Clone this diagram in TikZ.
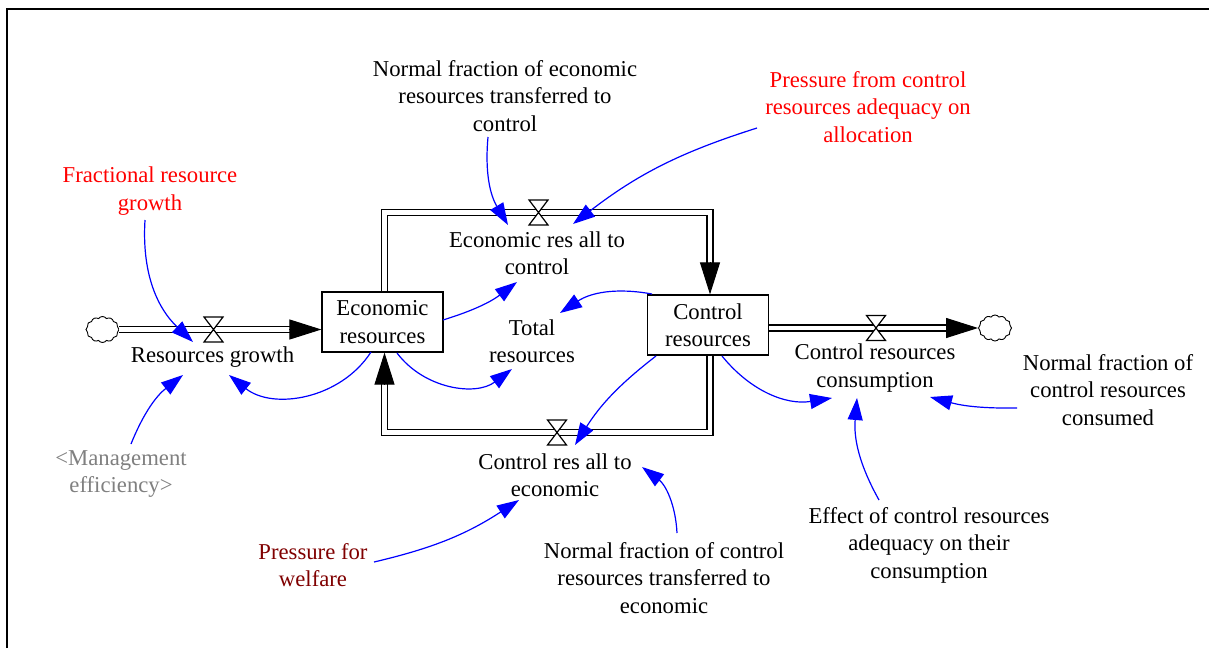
\documentclass[tikz,border=0pt]{standalone}
\usepackage{fontspec}
\setmainfont{Liberation Serif}
\usetikzlibrary{arrows.meta,shapes.symbols,calc}
\definecolor{darkred}{RGB}{128,0,0}
\definecolor{vgrey}{RGB}{128,128,128}
\begin{document}
\begin{tikzpicture}[x=1pt,y=-1pt,
  lbl/.style={align=center, font=\fontsize{22.7}{27.5}\selectfont, inner sep=1pt},
  stock/.style={lbl, draw, line width=1.2pt, minimum width=121pt, minimum height=60pt, fill=white},
  infl/.style={blue, line width=1.2pt, -{Triangle[length=22pt,width=15pt]}},
  pipe/.style={double=white, line width=1.7pt, double distance=4.3pt},
  flowtip/.style={-{Triangle[length=32pt,width=20pt]}, line width=1pt},
  cloudy/.style={cloud, cloud puffs=12, cloud puff arc=110, aspect=1.35, draw, line width=0.9pt, fill=white, minimum width=33pt, minimum height=26pt, inner sep=0pt},
  valve/.pic={\draw[fill=white, line width=1.2pt, line join=miter] (-9.5,-12.5) -- (9.5,-12.5) -- (-9.5,12.5) -- (9.5,12.5) -- cycle;}
]
\useasboundingbox (0,0) rectangle (1209,648);
\fill[white] (0,0) rectangle (1209,648);
\draw[line width=2pt] (7,648) -- (7,9) -- (1209,9);

% stocks and clouds
\node[stock] (ER) at (382.5,322) {Economic\\resources};
\node[stock] (CR) at (708,325) {Control\\resources};
\node[cloudy] (CL) at (102.5,329.5) {};
\node[cloudy] (CRt) at (995,328) {};
\coordinate (V0) at (213.5,329.5);
\coordinate (V1) at (538.5,212.5);
\coordinate (V2) at (557,432.5);
\coordinate (V3) at (876,328);

% pipes
\draw[pipe] (CL.east |- V0) -- ($(ER.west |- V0)+(-31,0)$);
\draw[flowtip] ($(ER.west |- V0)+(-32,0)$) -- (ER.west |- V0);
\draw[pipe] ($(ER.north)+(2,0)$) |- (V1) -| ($(CR.north)+(2,-31)$);
\draw[flowtip] ($(CR.north)+(2,-32)$) -- ($(CR.north)+(2,0)$);
\draw[pipe] ($(CR.south)+(2,0)$) |- (V2) -| ($(ER.south)+(2,31)$);
\draw[flowtip] ($(ER.south)+(2,32)$) -- ($(ER.south)+(2,0)$);
\draw[pipe] (CR.east |- V3) -- ($(CRt.west)+(-31,0)$);
\draw[flowtip] ($(CRt.west)+(-32,0)$) -- (CRt.west);
\pic at (V0) {valve};
\pic at (V1) {valve};
\pic at (V2) {valve};
\pic at (V3) {valve};

% labels
\node[lbl] (RGL) at (212.5,357) {Resources growth};
\node[lbl] (ERC) at (537,253) {Economic res all to\\control};
\node[lbl] (CRA) at (555,475) {Control res all to\\economic};
\node[lbl] (CRC) at (875,368) {Control resources\\consumption};
\node[lbl] (TR) at (532,341) {Total\\resources};
\node[lbl] (NFE) at (505,96) {Normal fraction of economic\\resources transferred to\\control};
\node[lbl, text=red] (PFC) at (868,107) {Pressure from control\\resources adequacy on\\allocation};
\node[lbl, text=red] (FRG) at (150,191) {Fractional resource\\growth};
\node[lbl, text=vgrey] (ME) at (121,474) {<Management\\efficiency>};
\node[lbl, text=darkred] (PW) at (313,565) {Pressure for\\welfare};
\node[lbl] (NFC) at (664,578) {Normal fraction of control\\resources transferred to\\economic};
\node[lbl] (EFF) at (929,545) {Effect of control resources\\adequacy on their\\consumption};
\node[lbl] (NFCC) at (1108,390) {Normal fraction of\\control resources\\consumed};

% influences
\draw[infl] ($(FRG)+(-5,29)$) to[bend right=25] ($(RGL)+(-19.5,-15)$);
\draw[infl] ($(ME)+(10,-30)$) to[bend left=15] ($(RGL)+(-29.5,18)$);
\draw[infl] ($(ER)+(-11.5,30)$) to[bend left=48] ($(RGL)+(16.5,18)$);
\draw[infl] ($(ER)+(60.5,-2)$) to[bend right=10] ($(ERC)+(-20,29)$);
\draw[infl] ($(ER)+(14.5,31)$) to[bend right=45] ($(TR)+(-20,28)$);
\draw[infl] ($(CR)+(-56,-31)$) to[bend right=22] ($(TR)+(28,-28)$);
\draw[infl] ($(CR)+(-52,31)$) to[bend right=10] ($(CRA)+(20,-30)$);
\draw[infl] ($(CR)+(14,31)$) to[bend right=30] ($(CRC)+(-43,30)$);
\draw[infl] ($(NFE)+(-17,41)$) to[bend right=18] ($(ERC)+(-29,-28)$);
\draw[infl] ($(PFC)+(-111,21)$) to[bend right=10] ($(ERC)+(36,-29)$);
\draw[infl] ($(PW)+(61,-3)$) to[bend right=10] ($(CRA)+(-36,25)$);
\draw[infl] ($(NFC)+(13,-45)$) to[bend right=25] ($(CRA)+(87,-8)$);
\draw[infl] ($(EFF)+(-50,-45)$) to[bend left=17] ($(CRC)+(-18,30)$);
\draw[infl] ($(NFCC)+(-91,18)$) to[bend left=8] ($(CRC)+(55,29)$);
\end{tikzpicture}
\end{document}
